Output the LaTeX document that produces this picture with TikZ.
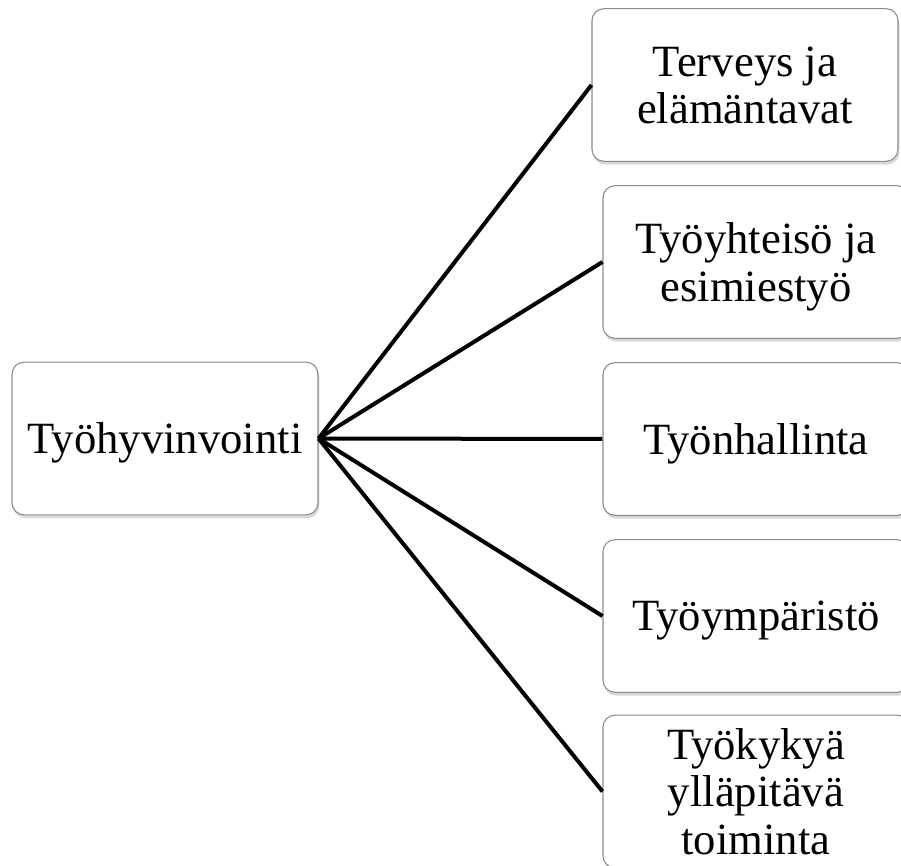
\documentclass[tikz,border=0pt]{standalone}
\usepackage{fontspec}
\setmainfont{Liberation Serif}
\usetikzlibrary{shadows}

\begin{document}
\begin{tikzpicture}[
    x=0.75pt, y=-0.75pt,
    box/.style={rectangle, draw=gray!90, line width=0.8pt, fill=white, rounded corners=9pt,
                minimum width=229.5pt, minimum height=114.5pt, align=center, inner sep=2pt,
                font=\fontsize{33.5}{35.5}\selectfont, text depth=-6pt,
                drop shadow={opacity=0.3, shadow xshift=1pt, shadow yshift=-2.5pt}},
    link/.style={line width=3pt, draw=black}
]
\useasboundingbox (0,0) rectangle (901,866);

\node[box] (main) at (165,438.5) {Työhyvinvointi};

\node[box] (terveys) at (745,85) {Terveys ja\\elämäntavat};
\node[box] (yhteiso) at (756,262) {Työyhteisö ja\\esimiestyö};
\node[box] (hallinta) at (756,439) {Työnhallinta};
\node[box] (ymparisto) at (756,616) {Työympäristö};
\node[box] (tyokyky) at (756,791.5) {Työkykyä\\ylläpitävä\\toiminta};

\draw[link] (main.east) -- (terveys.west);
\draw[link] (main.east) -- (yhteiso.west);
\draw[link] (main.east) -- (hallinta.west);
\draw[link] (main.east) -- (ymparisto.west);
\draw[link] (main.east) -- (tyokyky.west);
\end{tikzpicture}
\end{document}
